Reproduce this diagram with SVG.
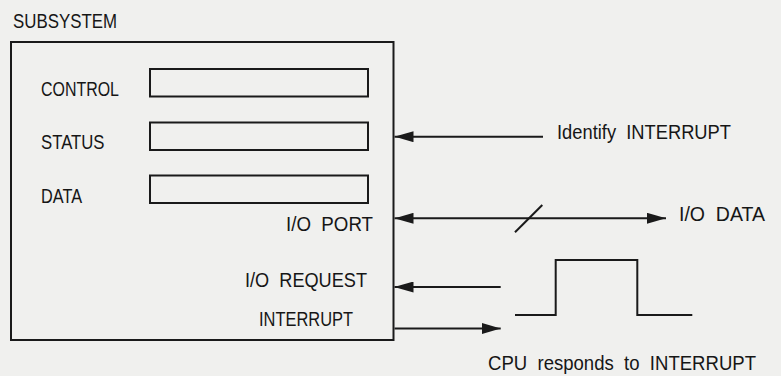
<svg xmlns="http://www.w3.org/2000/svg" width="781" height="376" viewBox="0 0 781 376">
<style>
  text { font-family: "Liberation Sans", Arial, sans-serif; font-size: 19.5px; fill: #161616; }
  .box { fill: none; stroke: #1a1a1a; stroke-width: 2; }
  .reg { fill: none; stroke: #1a1a1a; stroke-width: 2; }
  .wire { fill: none; stroke: #1a1a1a; stroke-width: 2; }
</style>
<defs>
  <marker id="ah" viewBox="0 0 19 11" refX="19" refY="5.5" markerWidth="19" markerHeight="11" markerUnits="userSpaceOnUse" orient="auto-start-reverse">
    <path d="M0,0 L19,5.5 L0,11 z" fill="#1a1a1a"/>
  </marker>
</defs>
<rect x="0" y="0" width="781" height="376" fill="#f0f0ee"/>

<g id="subsystem">
  <text x="13" y="28" font-size="17.5" textLength="104" lengthAdjust="spacingAndGlyphs">SUBSYSTEM</text>
  <rect class="box" x="11" y="42" width="382.5" height="298"/>
  <text x="286" y="231" textLength="87" lengthAdjust="spacingAndGlyphs">I/O&#160;&#160;PORT</text>
  <text x="245" y="286.5" textLength="122" lengthAdjust="spacingAndGlyphs">I/O&#160;&#160;REQUEST</text>
  <text x="259" y="326" textLength="94" lengthAdjust="spacingAndGlyphs">INTERRUPT</text>
</g>

<g id="control-register">
  <text x="41" y="96" textLength="78" lengthAdjust="spacingAndGlyphs">CONTROL</text>
  <rect class="reg" x="150" y="69" width="218" height="27.5"/>
</g>
<g id="status-register">
  <text x="41" y="149" textLength="63.5" lengthAdjust="spacingAndGlyphs">STATUS</text>
  <rect class="reg" x="150" y="122.5" width="218" height="27.5"/>
</g>
<g id="data-register">
  <text x="41" y="202.5" textLength="41" lengthAdjust="spacingAndGlyphs">DATA</text>
  <rect class="reg" x="150" y="175.5" width="218" height="27.5"/>
</g>

<g id="identify-interrupt">
  <text x="557" y="138.5" textLength="174" lengthAdjust="spacingAndGlyphs">Identify&#160;&#160;INTERRUPT</text>
</g>
<g id="io-data">
  <text x="679" y="221" textLength="86" lengthAdjust="spacingAndGlyphs">I/O&#160;&#160;DATA</text>
</g>
<g id="cpu-responds">
  <text x="488" y="370" textLength="268" lengthAdjust="spacingAndGlyphs">CPU&#160;&#160;responds&#160;&#160;to&#160;&#160;INTERRUPT</text>
</g>

<g id="connectors">
  <path class="wire" d="M543,136.7 L394.5,136.7" marker-end="url(#ah)"/>
  <path class="wire" d="M394.5,218.3 L666,218.3" marker-start="url(#ah)" marker-end="url(#ah)"/>
  <path class="wire" d="M515,232.3 L542.3,205"/>
  <path class="wire" d="M500.7,287 L394.5,287" marker-end="url(#ah)"/>
  <path class="wire" d="M394.5,328.5 L500.7,328.5" marker-end="url(#ah)"/>
  <path class="wire" d="M515,315 L555.7,315 L555.7,260 L637.3,260 L637.3,315 L692.3,315"/>
</g>
</svg>
